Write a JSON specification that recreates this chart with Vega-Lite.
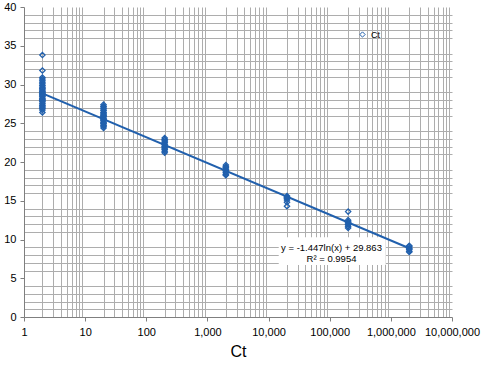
{
"$schema": "https://vega.github.io/schema/vega-lite/v6.json",
"width": 428, "height": 310,
"autosize": {"type": "none"},
"padding": {"left": 24, "top": 7, "right": 39, "bottom": 48},
"background": "white",
"config": {"font": "Liberation Sans", "view": {"stroke": null}},
"datasets": {
"pts": [
{"x":2,"y":33.8,"s":"Ct"},{"x":2,"y":31.8,"s":"Ct"},{"x":2,"y":30.9,"s":"Ct"},{"x":2,"y":30.7,"s":"Ct"},{"x":2,"y":30.5,"s":"Ct"},{"x":2,"y":30.3,"s":"Ct"},{"x":2,"y":30.1,"s":"Ct"},{"x":2,"y":29.9,"s":"Ct"},{"x":2,"y":29.8,"s":"Ct"},{"x":2,"y":29.6,"s":"Ct"},{"x":2,"y":29.5,"s":"Ct"},{"x":2,"y":29.4,"s":"Ct"},{"x":2,"y":29.2,"s":"Ct"},{"x":2,"y":29.1,"s":"Ct"},{"x":2,"y":29.0,"s":"Ct"},{"x":2,"y":28.9,"s":"Ct"},{"x":2,"y":28.8,"s":"Ct"},{"x":2,"y":28.7,"s":"Ct"},{"x":2,"y":28.6,"s":"Ct"},{"x":2,"y":28.5,"s":"Ct"},{"x":2,"y":28.4,"s":"Ct"},{"x":2,"y":28.2,"s":"Ct"},{"x":2,"y":28.1,"s":"Ct"},{"x":2,"y":28.0,"s":"Ct"},{"x":2,"y":27.9,"s":"Ct"},{"x":2,"y":27.8,"s":"Ct"},{"x":2,"y":27.6,"s":"Ct"},{"x":2,"y":27.5,"s":"Ct"},{"x":2,"y":27.3,"s":"Ct"},{"x":2,"y":27.2,"s":"Ct"},{"x":2,"y":27.0,"s":"Ct"},{"x":2,"y":26.9,"s":"Ct"},{"x":2,"y":26.7,"s":"Ct"},{"x":2,"y":26.4,"s":"Ct"},
{"x":20,"y":27.4,"s":"Ct"},{"x":20,"y":27.2,"s":"Ct"},{"x":20,"y":27.1,"s":"Ct"},{"x":20,"y":26.9,"s":"Ct"},{"x":20,"y":26.7,"s":"Ct"},{"x":20,"y":26.6,"s":"Ct"},{"x":20,"y":26.4,"s":"Ct"},{"x":20,"y":26.3,"s":"Ct"},{"x":20,"y":26.1,"s":"Ct"},{"x":20,"y":26.0,"s":"Ct"},{"x":20,"y":25.9,"s":"Ct"},{"x":20,"y":25.8,"s":"Ct"},{"x":20,"y":25.6,"s":"Ct"},{"x":20,"y":25.5,"s":"Ct"},{"x":20,"y":25.4,"s":"Ct"},{"x":20,"y":25.3,"s":"Ct"},{"x":20,"y":25.1,"s":"Ct"},{"x":20,"y":25.0,"s":"Ct"},{"x":20,"y":24.9,"s":"Ct"},{"x":20,"y":24.7,"s":"Ct"},{"x":20,"y":24.6,"s":"Ct"},{"x":20,"y":24.4,"s":"Ct"},
{"x":200,"y":23.1,"s":"Ct"},{"x":200,"y":22.9,"s":"Ct"},{"x":200,"y":22.8,"s":"Ct"},{"x":200,"y":22.6,"s":"Ct"},{"x":200,"y":22.5,"s":"Ct"},{"x":200,"y":22.3,"s":"Ct"},{"x":200,"y":22.2,"s":"Ct"},{"x":200,"y":22.0,"s":"Ct"},{"x":200,"y":21.9,"s":"Ct"},{"x":200,"y":21.7,"s":"Ct"},{"x":200,"y":21.6,"s":"Ct"},{"x":200,"y":21.4,"s":"Ct"},{"x":200,"y":21.2,"s":"Ct"},
{"x":2000,"y":19.6,"s":"Ct"},{"x":2000,"y":19.4,"s":"Ct"},{"x":2000,"y":19.3,"s":"Ct"},{"x":2000,"y":19.1,"s":"Ct"},{"x":2000,"y":19.0,"s":"Ct"},{"x":2000,"y":18.9,"s":"Ct"},{"x":2000,"y":18.7,"s":"Ct"},{"x":2000,"y":18.6,"s":"Ct"},{"x":2000,"y":18.4,"s":"Ct"},{"x":2000,"y":18.3,"s":"Ct"},
{"x":20000,"y":15.6,"s":"Ct"},{"x":20000,"y":15.5,"s":"Ct"},{"x":20000,"y":15.4,"s":"Ct"},{"x":20000,"y":15.3,"s":"Ct"},{"x":20000,"y":15.1,"s":"Ct"},{"x":20000,"y":14.8,"s":"Ct"},{"x":20000,"y":14.3,"s":"Ct"},
{"x":200000,"y":13.6,"s":"Ct"},{"x":200000,"y":12.5,"s":"Ct"},{"x":200000,"y":12.3,"s":"Ct"},{"x":200000,"y":12.2,"s":"Ct"},{"x":200000,"y":12.0,"s":"Ct"},{"x":200000,"y":11.9,"s":"Ct"},{"x":200000,"y":11.7,"s":"Ct"},{"x":200000,"y":11.5,"s":"Ct"},
{"x":2000000,"y":9.2,"s":"Ct"},{"x":2000000,"y":9.1,"s":"Ct"},{"x":2000000,"y":8.9,"s":"Ct"},{"x":2000000,"y":8.8,"s":"Ct"},{"x":2000000,"y":8.7,"s":"Ct"},{"x":2000000,"y":8.5,"s":"Ct"},{"x":2000000,"y":8.4,"s":"Ct"}
],
"trend": [{"x":2,"y":28.860},{"x":2000000,"y":8.869}],
"box": [{"x":14650,"x2":824000,"y":10.3,"y2":6.7}],
"label": [{"x":107000,"y":8.9,"t":"y = -1.447ln(x) + 29.863|R² = 0.9954"}]
},
"resolve": {"axis": {"x": "independent", "y": "independent"}},
"layer": [
{
 "data": {"name": "box"},
 "mark": {"type": "rect", "color": "white", "opacity": 1, "zindex": 2},
 "encoding": {
  "x": {"field": "x", "type": "quantitative", "scale": {"type": "log", "domain": [1, 10000000], "nice": false}, "axis": {"orient": "bottom", "zindex": 0, "labels": false, "ticks": false, "domain": false, "title": null, "gridColor": "#adadad", "gridWidth": 1,
   "values": [2,3,4,5,6,7,8,9,20,30,40,50,60,70,80,90,200,300,400,500,600,700,800,900,2000,3000,4000,5000,6000,7000,8000,9000,20000,30000,40000,50000,60000,70000,80000,90000,200000,300000,400000,500000,600000,700000,800000,900000,2000000,3000000,4000000,5000000,6000000,7000000,8000000,9000000]}},
  "x2": {"field": "x2"},
  "y": {"field": "y", "type": "quantitative", "scale": {"domain": [0, 40], "nice": false}, "axis": {"orient": "left", "zindex": 0, "labels": false, "ticks": false, "domain": false, "title": null, "gridColor": "#adadad", "gridWidth": 1,
   "values": [1,2,3,4,6,7,8,9,11,12,13,14,16,17,18,19,21,22,23,24,26,27,28,29,31,32,33,34,36,37,38,39]}},
  "y2": {"field": "y2"}
 }
},
{
 "data": {"name": "label"},
 "mark": {"type": "text", "fontSize": 9.5, "lineHeight": 10.5, "lineBreak": "|", "baseline": "middle", "align": "center", "color": "black", "zindex": 3},
 "encoding": {
  "x": {"field": "x", "type": "quantitative", "axis": null},
  "y": {"field": "y", "type": "quantitative", "axis": null},
  "text": {"field": "t"}
 }
},
{
 "data": {"name": "trend"},
 "mark": {"type": "line", "color": "#2160AD", "strokeWidth": 2, "zindex": 4},
 "encoding": {
  "x": {"field": "x", "type": "quantitative", "axis": null},
  "y": {"field": "y", "type": "quantitative", "axis": null}
 }
},
{
 "data": {"name": "pts"},
 "mark": {"type": "point", "shape": "diamond", "filled": false, "size": 28, "strokeWidth": 1.3, "opacity": 1, "zindex": 5},
 "encoding": {
  "x": {"field": "x", "type": "quantitative", "axis": {"orient": "bottom", "zindex": 1, "values": [1,10,100,1000,10000,100000,1000000,10000000], "format": ",", "labelFontSize": 11, "labelColor": "black", "labelPadding": 5, "labelOverlap": false, "labelFlush": false, "labelBound": false, "tickSize": 4, "tickColor": "#7f7f7f", "domainColor": "#7f7f7f", "gridColor": "#7a7a7a", "title": "Ct", "titleFontSize": 16, "titleFontWeight": "normal", "titleColor": "black", "titlePadding": 6}},
  "y": {"field": "y", "type": "quantitative", "axis": {"orient": "left", "zindex": 1, "values": [0,5,10,15,20,25,30,35,40], "labelFontSize": 11, "labelColor": "black", "labelPadding": 4, "tickSize": 4, "tickColor": "#7f7f7f", "domainColor": "#7f7f7f", "gridColor": "#7a7a7a", "title": null}},
  "color": {"field": "s", "type": "nominal", "scale": {"range": ["#2160AD"]}, "legend": {"orient": "none", "legendX": 334, "legendY": 23, "title": null, "labelFontSize": 9, "labelColor": "black", "symbolType": "diamond", "symbolSize": 28, "symbolStrokeWidth": 1, "padding": 0}}
 }
}
]
}
